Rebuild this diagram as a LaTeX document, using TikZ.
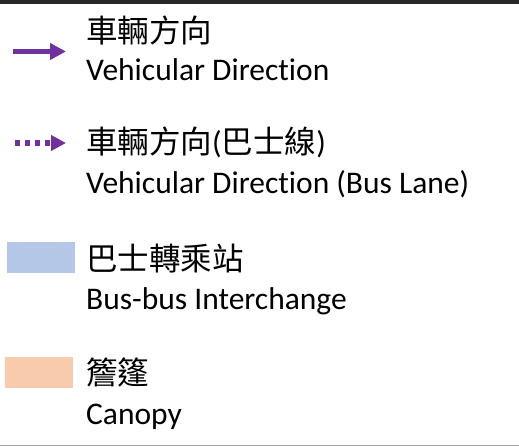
\documentclass[tikz,border=0pt]{standalone}
\usepackage{fontspec}
\setmainfont[Ligatures=NoCommon]{Carlito}
\newfontfamily\cjk{Noto Sans CJK TC}
\usetikzlibrary{arrows.meta}
\definecolor{legpurple}{HTML}{7030A0}
\definecolor{legblue}{HTML}{B4C7E7}
\definecolor{legorange}{HTML}{F8CBAD}
\definecolor{topline}{HTML}{262626}
\definecolor{botline}{HTML}{A6A6A6}
\tikzset{
  legtext/.style={anchor=base west, inner sep=0pt, font=\fontsize{31.5}{31.5}\selectfont},
  vehline/.style={legpurple, line width=5.5pt, -{Triangle[length=16pt,width=16pt]}},
  busline/.style={legpurple, line width=6pt, dash pattern=on 5pt off 5pt, -{Triangle[length=15pt,width=15pt]}},
}
\begin{document}
\begin{tikzpicture}[x=1pt,y=-1pt]
\useasboundingbox (0,0) rectangle (519,446);
\fill[topline] (0,0) rectangle (519,4);
\fill[botline] (0,444.6) rectangle (519,446);
% row 1
\coordinate (a1s) at (13,51.5);
\coordinate (a1e) at (66,51.5);
\draw[vehline] (a1s) -- (a1e);
\node[legtext] (t1c) at (86,43) {\cjk 車輛方向};
\node[legtext] (t1e) at (86,81) {Vehicular Direction};
% row 2
\coordinate (a2s) at (15,143);
\coordinate (a2e) at (66,143);
\draw[busline] (a2s) -- (a2e);
\node[legtext] (t2c) at (86,153.5) {{\cjk 車輛方向}({\cjk 巴士線})};
\node[legtext] (t2e) at (86,194) {Vehicular Direction (Bus Lane)};
% row 3
\fill[legblue] (7,242) rectangle (75,273);
\node[legtext] (t3c) at (86,270.5) {\cjk 巴士轉乘站};
\node[legtext] (t3e) at (86,309) {Bus-bus Interchange};
% row 4
\fill[legorange] (5,357) rectangle (73,388);
\node[legtext] (t4c) at (86,384.5) {\cjk 簷篷};
\node[legtext] (t4e) at (86,424.3) {Canopy};
\end{tikzpicture}
\end{document}
